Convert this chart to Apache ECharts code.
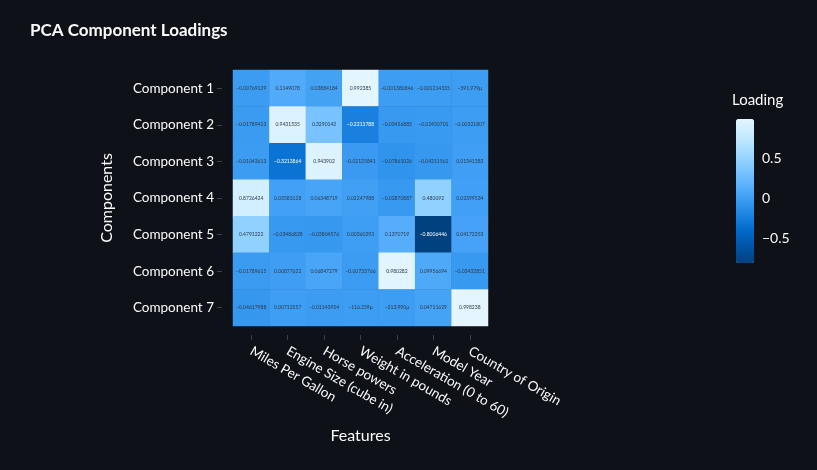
<!DOCTYPE html>
<html><head><meta charset="utf-8">
<script src="https://cdn.jsdelivr.net/npm/echarts@6/dist/echarts.min.js"></script>
<style>html,body{margin:0;padding:0;background:#0e1117;}#c{width:817px;height:470px;}</style>
</head><body><div id="c"></div>
<script>
const features = ["Miles Per Gallon","Engine Size (cube in)","Horse powers","Weight in pounds","Acceleration (0 to 60)","Model Year","Country of Origin"];
const components = ["Component 1","Component 2","Component 3","Component 4","Component 5","Component 6","Component 7"];
const row1 = [-0.00769129, 0.1149078, 0.03884184, 0.992385, -0.001380846, -0.001214335, -0.000591979];
const row2 = [-0.01789413, 0.9431535, 0.3290142, -0.2211788, -0.03456885, -0.02450701, -0.00321807];
const row3 = [-0.01043613, -0.3213864, 0.943902, -0.02125841, -0.07861026, -0.04211561, 0.01341383];
const row4 = [0.8726424, 0.03583128, 0.06348719, 0.02247988, -0.02870887, 0.480092, 0.02399534];
const row5 = [0.4791222, -0.03486828, -0.03804576, 0.00360293, 0.1370719, -0.8006446, 0.04172253];
const row6 = [-0.01789615, 0.00877622, 0.06847279, -0.00733766, 0.980282, 0.09956694, -0.03432851];
const row7 = [-0.04617988, 0.00712557, -0.01143954, -0.000116259, -0.00031399, 0.04711629, 0.998238];
const rows = [row1,row2,row3,row4,row5,row6,row7];
const colorbarTicks = [-0.5, 0, 0.5];
const palette = ["#004280","#0054a3","#0068c9","#1c83e1","#3d9df3","#60b4ff","#83c9ff","#a6dcff","#c7ebff","#e4f5ff"];

function fmt(v){
  if (Math.abs(v) < 0.001) {
    return (v*1e6).toFixed(3).replace('-','\u2212') + 'μ';
  }
  let s = parseFloat(v.toPrecision(7)).toString();
  return s.replace('-','\u2212');
}
const all = rows.flat();
const vmin = Math.min(...all), vmax = Math.max(...all);
const data = [];
rows.forEach((r,i)=>r.forEach((v,j)=>{
  data.push({value:[j,i,v], label:{color: v < -0.2 ? '#ffffff' : '#2e3a4a'}});
}));

const chart = echarts.init(document.getElementById('c'));
const txt = '#fafafa';
const font = 'Lato, "Open Sans", sans-serif';
chart.setOption({
  backgroundColor:'#0e1117',
  textStyle:{fontFamily:font},
  title:[
    {text:'PCA Component Loadings', left:25, top:17, textStyle:{color:txt, fontSize:17, fontWeight:'bold', fontFamily:font}},
    {text:'Loading', left:727, top:88, textStyle:{color:txt, fontSize:15, fontWeight:'normal', fontFamily:font}}
  ],
  grid:[
    {left:233, top:70, width:255, height:256},
    {left:736, top:119, width:18, height:144}
  ],
  xAxis:[
    {type:'category', data:features, gridIndex:0, offset:9,
     axisLine:{show:false}, axisTick:{show:true, length:5, alignWithLabel:true, lineStyle:{color:'#3b3f48'}},
     axisLabel:{rotate:-30, interval:0, color:txt, fontSize:13.5, margin:15, fontFamily:font},
     splitLine:{show:false},
     name:'Features', nameLocation:'middle', nameGap:93, nameTextStyle:{color:txt, fontSize:16, fontFamily:font}},
    {type:'value', gridIndex:1, show:false, min:0, max:1}
  ],
  yAxis:[
    {type:'category', data:components, inverse:true, gridIndex:0, offset:11,
     axisLine:{show:false}, axisTick:{show:true, length:5, alignWithLabel:true, lineStyle:{color:'#3b3f48'}},
     axisLabel:{color:txt, fontSize:13.5, margin:8, fontFamily:font},
     splitLine:{show:false},
     name:'Components', nameLocation:'middle', nameGap:107, nameRotate:90, nameTextStyle:{color:txt, fontSize:16, fontFamily:font}},
    {type:'value', gridIndex:1, position:'right', min:vmin, max:vmax,
     axisLine:{show:false}, axisTick:{show:false}, splitLine:{show:false},
     axisLabel:{customValues:colorbarTicks, color:txt, fontSize:14, margin:8, fontFamily:font,
       formatter:v=>String(v).replace('-','\u2212')}}
  ],
  visualMap:{type:'continuous', min:vmin, max:vmax, calculable:false, left:736, top:119, padding:0,
    itemWidth:18, itemHeight:144, showLabel:false, seriesIndex:0,
    inRange:{color:palette}, textStyle:{color:txt}},
  series:[{
    type:'heatmap', xAxisIndex:0, yAxisIndex:0, data:data,
    label:{show:true, fontSize:5, formatter:p=>fmt(p.value[2])},
    emphasis:{disabled:true},
    itemStyle:{borderWidth:0}
  }]
});
</script></body></html>
